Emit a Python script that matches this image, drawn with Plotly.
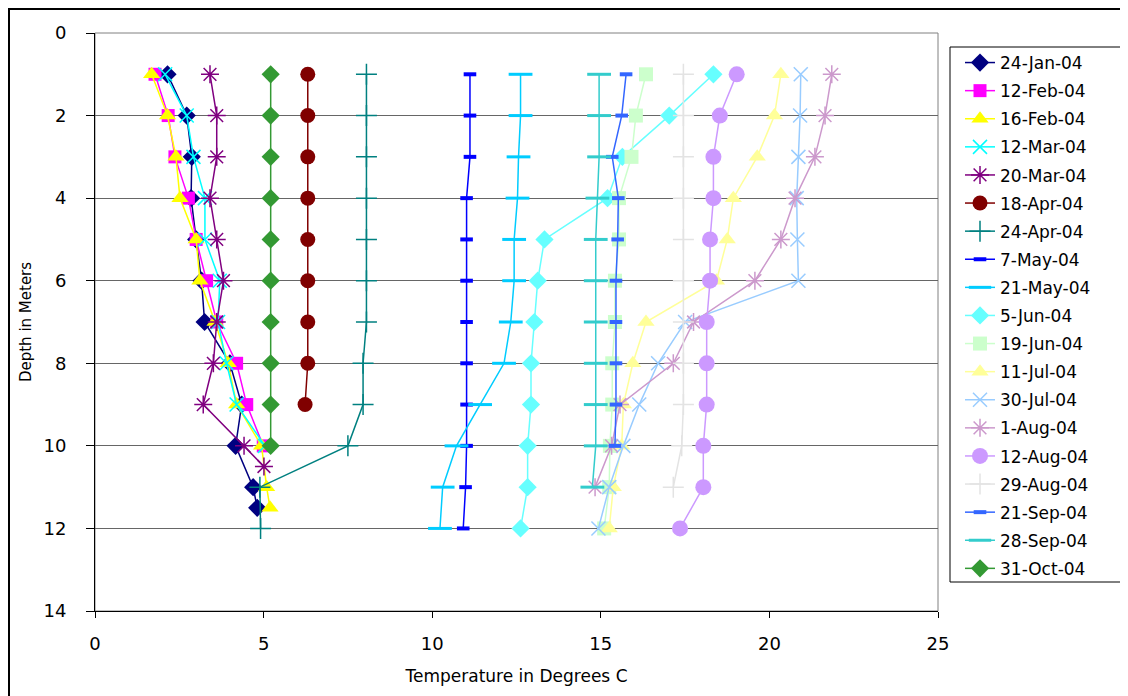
import plotly.graph_objects as go

# ---------------- data ----------------
names = ["24-Jan-04", "12-Feb-04", "16-Feb-04", "12-Mar-04", "20-Mar-04", "18-Apr-04",
         "24-Apr-04", "7-May-04", "21-May-04", "5-Jun-04", "19-Jun-04", "11-Jul-04",
         "30-Jul-04", "1-Aug-04", "12-Aug-04", "29-Aug-04", "21-Sep-04", "28-Sep-04",
         "31-Oct-04"]

d_jan24 = [1, 2, 3, 4, 5, 6, 7, 8, 9, 10, 11, 11.5]
t_jan24 = [2.15, 2.72, 2.87, 2.85, 3.0, 3.16, 3.25, 4.0, 4.35, 4.17, 4.69, 4.81]

d_feb12 = [1, 2, 3, 4, 5, 6, 7, 8, 9, 10]
t_feb12 = [1.78, 2.17, 2.37, 2.77, 3.0, 3.31, 3.61, 4.2, 4.5, 4.99]

d_feb16 = [1, 2, 3, 4, 5, 6, 7, 8, 9, 10, 11, 11.5]
t_feb16 = [1.68, 2.15, 2.4, 2.52, 3.0, 3.11, 3.56, 3.95, 4.2, 4.94, 5.09, 5.19]

d_mar12 = [1, 2, 3, 4, 5, 6, 7, 8, 9, 10]
t_mar12 = [2.08, 2.72, 2.92, 3.26, 3.26, 3.7, 3.65, 3.9, 4.2, 5.04]

d_mar20 = [1, 2, 3, 4, 5, 6, 7, 8, 9, 10, 10.5]
t_mar20 = [3.41, 3.61, 3.61, 3.41, 3.61, 3.81, 3.61, 3.51, 3.21, 4.42, 5.01]

d_apr18 = [1, 2, 3, 4, 5, 6, 7, 8, 9]
t_apr18 = [6.31, 6.31, 6.31, 6.31, 6.31, 6.31, 6.31, 6.31, 6.23]

d_apr24 = [1, 2, 3, 4, 5, 6, 7, 8, 9, 10, 11, 12]
t_apr24 = [8.05, 8.05, 8.05, 8.05, 8.05, 8.05, 8.05, 7.95, 7.95, 7.5, 4.89, 4.91]

d_may7 = [1, 2, 3, 4, 5, 6, 7, 8, 9, 10, 11, 12]
t_may7 = [11.12, 11.12, 11.12, 11.02, 11.02, 11.02, 11.02, 11.02, 11.02, 11.02, 10.99, 10.92]

d_may21 = [1, 2, 3, 4, 5, 6, 7, 8, 9, 10, 11, 12]
t_may21 = [12.62, 12.62, 12.56, 12.53, 12.43, 12.43, 12.33, 12.13, 11.42, 10.72, 10.31, 10.23]

d_jun5 = [1, 2, 3, 4, 5, 6, 7, 8, 9, 10, 11, 12]
t_jun5 = [18.34, 17.03, 15.64, 15.2, 13.33, 13.13, 13.03, 12.93, 12.93, 12.83, 12.83, 12.62]

d_jun19 = [1, 2, 3, 4, 5, 6, 7, 8, 9, 10, 11, 12]
t_jun19 = [16.34, 16.04, 15.91, 15.54, 15.54, 15.42, 15.42, 15.34, 15.34, 15.27, 15.25, 15.1]

d_jul11 = [1, 2, 3, 4, 5, 6, 7, 8, 9, 10, 11, 12]
t_jul11 = [20.34, 20.15, 19.64, 18.93, 18.75, 18.43, 16.34, 15.95, 15.67, 15.62, 15.37, 15.25]

d_jul30 = [1, 2, 3, 4, 5, 6, 7, 8, 9, 10, 11, 12]
t_jul30 = [20.93, 20.91, 20.86, 20.81, 20.83, 20.86, 17.5, 16.7, 16.14, 15.67, 15.25, 14.93]

d_aug1 = [1, 2, 3, 4, 5, 6, 7, 8, 9, 10, 11]
t_aug1 = [21.85, 21.65, 21.35, 20.76, 20.34, 19.57, 17.75, 17.15, 15.57, 15.32, 14.83]

d_aug12 = [1, 2, 3, 4, 5, 6, 7, 8, 9, 10, 11, 12]
t_aug12 = [19.03, 18.53, 18.34, 18.34, 18.24, 18.24, 18.14, 18.14, 18.14, 18.04, 18.04, 17.35]

d_aug29 = [1, 2, 3, 4, 5, 6, 7, 8, 9, 10, 11]
t_aug29 = [17.45, 17.45, 17.45, 17.45, 17.45, 17.45, 17.45, 17.45, 17.45, 17.4, 17.15]

d_sep21 = [1, 2, 3, 4, 5, 6, 7, 8, 9, 10]
t_sep21 = [15.75, 15.62, 15.34, 15.52, 15.5, 15.45, 15.45, 15.45, 15.45, 15.42]

d_sep28 = [1, 2, 3, 4, 5, 6, 7, 8, 9, 10, 11]
t_sep28 = [14.95, 14.95, 14.95, 14.9, 14.85, 14.85, 14.85, 14.85, 14.85, 14.85, 14.75]

d_oct31 = [1, 2, 3, 4, 5, 6, 7, 8, 9, 10]
t_oct31 = [5.21, 5.21, 5.21, 5.21, 5.21, 5.21, 5.21, 5.21, 5.21, 5.21]

x_ticks = [0, 5, 10, 15, 20, 25]
y_ticks = [0, 2, 4, 6, 8, 10, 12, 14]

series_t = [t_jan24, t_feb12, t_feb16, t_mar12, t_mar20, t_apr18, t_apr24, t_may7, t_may21,
            t_jun5, t_jun19, t_jul11, t_jul30, t_aug1, t_aug12, t_aug29, t_sep21, t_sep28, t_oct31]
series_d = [d_jan24, d_feb12, d_feb16, d_mar12, d_mar20, d_apr18, d_apr24, d_may7, d_may21,
            d_jun5, d_jun19, d_jul11, d_jul30, d_aug1, d_aug12, d_aug29, d_sep21, d_sep28, d_oct31]

# ---------------- styles ----------------
colors = ["#000080", "#FF00FF", "#FFFF00", "#00FFFF", "#800080", "#800000", "#008080",
          "#0000FF", "#00CCFF", "#66FFFF", "#CCFFCC", "#FFFF99", "#99CCFF", "#CC99CC",
          "#CC99FF", "#E3E3E3", "#3366FF", "#33CCCC", "#339933"]
symbols = ["diamond", "square", "triangle-up", "x-thin-open", "asterisk-open", "circle",
           "cross-thin-open", "line-ew-open", "line-ew-open", "diamond", "square",
           "triangle-up", "x-thin-open", "asterisk-open", "circle", "cross-thin-open",
           "line-ew-open", "line-ew-open", "diamond"]
sizes = [14, 13, 15, 14, 15, 15, 15, 9, 17, 14, 14, 15, 14, 15, 16, 15, 9, 17, 14]
mlw = [0, 0, 0, 1.5, 1.5, 0, 1.5, 4, 3, 0, 0, 0, 1.5, 1.5, 0, 1.5, 4, 3, 0]

FONT = "DejaVu Sans"

fig = go.Figure()
for i, nm in enumerate(names):
    fig.add_trace(go.Scatter(
        x=series_t[i], y=series_d[i], name=nm, mode="lines+markers",
        legendgroup=nm,
        line=dict(color=colors[i], width=1.5),
        marker=dict(symbol=symbols[i], size=sizes[i], color=colors[i],
                    line=dict(color=colors[i], width=mlw[i])),
    ))

# page body has an 8px offset; target screen geometry: plot x 95..938, y 33..611
OFF = 8
W, H = 1128, 696
L, T = 95 - OFF, 33 - OFF
pw, ph = 938 - 95, 611 - 33
R, B = W - L - pw, H - T - ph

def px(xs):
    return (xs - OFF - L) / pw

def py(ys):
    return (T + ph - (ys - OFF)) / ph

shapes = [
    dict(type="rect", xref="paper", yref="paper", x0=0, x1=1, y0=0, y1=1,
         line=dict(color="#808080", width=1), layer="below"),
    dict(type="rect", xref="paper", yref="paper", x0=px(950), x1=px(1125),
         y0=py(582), y1=py(47), line=dict(color="#000000", width=1)),
    dict(type="rect", xref="paper", yref="paper", x0=px(9), x1=px(1145),
         y0=py(720), y1=py(9), line=dict(color="#000000", width=2)),
]

fig.update_layout(
    width=W, height=H,
    margin=dict(l=L, r=R, t=T, b=B),
    paper_bgcolor="white", plot_bgcolor="white",
    font=dict(family=FONT, size=17, color="black"),
    showlegend=True,
    legend=dict(x=px(960), y=py(45), xanchor="left", yanchor="top",
                bgcolor="rgba(0,0,0,0)", borderwidth=0,
                font=dict(family=FONT, size=17), tracegroupgap=3,
                itemsizing="trace"),
    shapes=shapes,
)

fig.update_xaxes(
    range=[0, 25], tickmode="array", tickvals=x_ticks, ticktext=[str(v) for v in x_ticks],
    showgrid=False, zeroline=False, showline=True, linecolor="black", linewidth=1,
    ticks="outside", ticklen=6, tickcolor="black", ticklabelstandoff=10,
    tickfont=dict(family=FONT, size=18),
    title=dict(text="Temperature in Degrees C", font=dict(family=FONT, size=17), standoff=17),
)
fig.update_yaxes(
    range=[14, 0], tickmode="array", tickvals=y_ticks, ticktext=[str(v) for v in y_ticks],
    showgrid=True, gridcolor="#666666", gridwidth=1.2, zeroline=False,
    showline=True, linecolor="black", linewidth=1,
    ticks="outside", ticklen=8, tickcolor="black", ticklabelstandoff=16,
    tickfont=dict(family=FONT, size=18),
    title=dict(text="Depth in Meters", font=dict(family=FONT, size=15), standoff=8),
)

fig.write_html("out.html")
